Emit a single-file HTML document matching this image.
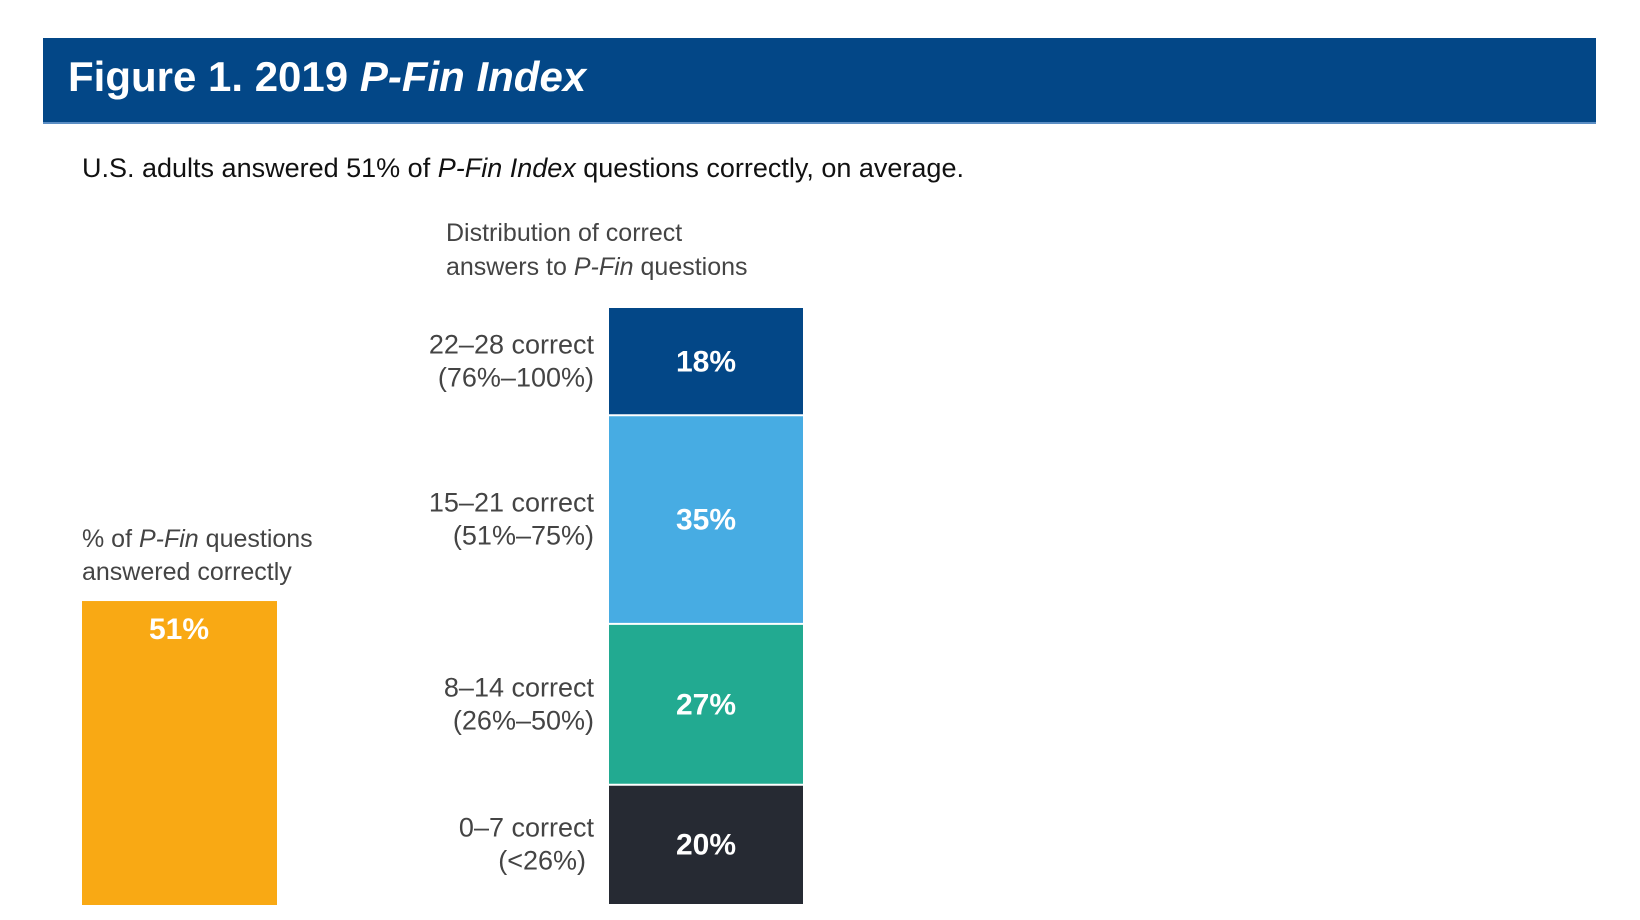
<!DOCTYPE html>
<html><head><meta charset="utf-8">
<style>
html,body{margin:0;padding:0;background:#fff;width:1640px;height:920px;overflow:hidden;font-family:"Liberation Sans Narrow","Liberation Sans",sans-serif;}
.hdr{position:absolute;left:43px;top:38px;width:1553px;height:86px;background:#034787;border-bottom:2px solid #5b8ec4;box-sizing:border-box;}
.hdr span{position:absolute;left:25px;top:15px;color:#fff;font:bold 42px "Liberation Sans Narrow","Liberation Sans",sans-serif;letter-spacing:0px;}
.t{position:absolute;color:#222;white-space:nowrap;}
</style></head><body>
<div class="hdr"><span>Figure 1. 2019 <i>P-Fin Index</i></span></div>
<div class="t" style="left:82px;top:153px;font-size:27px;color:#111;">U.S. adults answered 51% of <i>P-Fin Index</i> questions correctly, on average.</div>
<div class="t" style="left:446px;top:216px;font-size:25px;line-height:34px;color:#444;">Distribution of correct<br>answers to <i>P-Fin</i> questions</div>
<div class="t" style="left:82px;top:523px;font-size:25px;line-height:33px;color:#444;">% of <i>P-Fin</i> questions<br>answered correctly</div>
<svg id="chart" width="1640" height="920" style="position:absolute;left:0;top:0"></svg>
<script>
const categories=["22–28 correct","15–21 correct","8–14 correct","0–7 correct"];
const ranges=["(76%–100%)","(51%–75%)","(26%–50%)","(<26%)"];
const shares=[18,35,27,20];
const average=[51];
const colors=["#034787","#47ace3","#22aa91","#262a33"];
const NS="http://www.w3.org/2000/svg";
const svg=document.getElementById('chart');
const top0=308,bottom0=904;
const y=v=>(bottom0-top0)*v/100;
function mk(t,a){const e=document.createElementNS(NS,t);for(const k in a)e.setAttribute(k,a[k]);svg.appendChild(e);return e;}
let cy=top0;
shares.forEach((s,i)=>{
  const h=y(s);
  const r=mk('rect',{x:609,y:cy,width:194,height:h,fill:colors[i]});
  
  
  if(i>0){const l=mk('line',{x1:609,x2:803,y1:cy,y2:cy,stroke:'#fff','stroke-width':2});
  
  }
  const c=cy+h/2;
  const v=mk('text',{x:706,y:c+10,'text-anchor':'middle',fill:'#fff','font-size':30,'font-weight':'bold','font-family':'Liberation Sans Narrow, Liberation Sans, sans-serif'});
  v.textContent=s+'%';
  
  
  const l1=mk('text',{x:594,y:c-8,'text-anchor':'end',fill:'#444','font-size':27,'font-family':'Liberation Sans Narrow, Liberation Sans, sans-serif'});
  l1.textContent=categories[i];
  
  
  const l2=mk('text',{x:i==3?586:594,y:c+25,'text-anchor':'end',fill:'#444','font-size':27,'font-family':'Liberation Sans Narrow, Liberation Sans, sans-serif'});
  l2.textContent=ranges[i];
  
  
  cy+=h;
});
const ah=y(average[0]);
const ab=mk('rect',{x:82,y:bottom0+1-ah,width:195,height:ah,fill:'#f9a914'});


const at=mk('text',{x:179,y:bottom0+1-ah+38,'text-anchor':'middle',fill:'#fff','font-size':30,'font-weight':'bold','font-family':'Liberation Sans Narrow, Liberation Sans, sans-serif'});
at.textContent=average[0]+'%';


</script>
</body></html>
